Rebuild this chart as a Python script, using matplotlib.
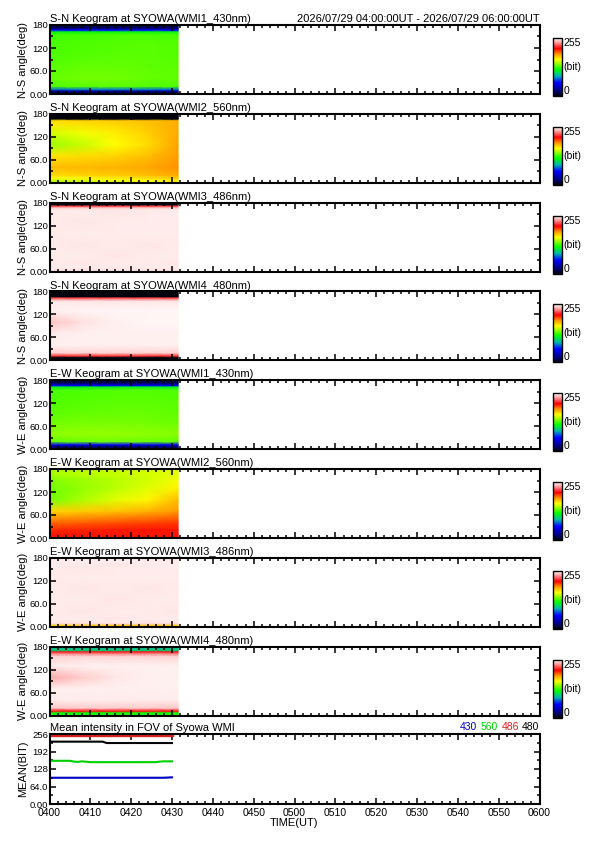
import matplotlib
matplotlib.use('Agg')
import matplotlib.pyplot as plt
import numpy as np
from matplotlib.colors import LinearSegmentedColormap, Normalize
from matplotlib.ticker import MultipleLocator

plt.rcParams['font.family'] = ['Liberation Sans', 'DejaVu Sans']

# keogram grid nodes: angle (deg) rows, time (min after 04:00 UT) columns
ang = [0, 4, 8, 12, 20, 40, 70, 100, 130, 155, 163, 167, 171, 175, 180]
tim = [0, 8, 16, 24, 31.5]

sn430 = [[10, 10, 10, 10, 10], [16, 16, 16, 16, 16], [28, 28, 28, 28, 28],
         [75, 78, 78, 78, 75], [130, 132, 132, 131, 130], [134, 136, 136, 134, 133],
         [132, 134, 134, 133, 132], [130, 131, 132, 132, 131], [129, 130, 131, 132, 131],
         [128, 129, 130, 130, 129], [112, 114, 114, 114, 112], [60, 62, 62, 62, 60],
         [28, 28, 28, 28, 28], [16, 16, 16, 16, 16], [10, 10, 10, 10, 10]]

sn560 = [[145, 150, 154, 158, 162], [148, 152, 156, 160, 164], [152, 155, 159, 162, 166],
         [158, 161, 164, 167, 172], [168, 170, 172, 175, 180], [176, 177, 178, 181, 185],
         [166, 168, 170, 175, 183], [143, 150, 160, 168, 182], [152, 158, 164, 171, 180],
         [166, 168, 170, 174, 179], [168, 170, 172, 175, 178], [0, 0, 0, 0, 0],
         [0, 0, 0, 0, 0], [0, 0, 0, 0, 0], [0, 0, 0, 0, 0]]

sn486 = [[247, 248, 248, 247, 248], [249, 250, 249, 250, 249], [251, 250, 251, 250, 251],
         [251, 251, 250, 251, 251], [251, 250, 251, 251, 250], [251, 251, 250, 251, 251],
         [251, 250, 251, 250, 251], [251, 251, 251, 251, 251], [251, 250, 251, 251, 251],
         [251, 251, 250, 251, 251], [250, 250, 250, 250, 250], [244, 244, 244, 244, 244],
         [222, 222, 222, 222, 222], [0, 0, 0, 0, 0], [0, 0, 0, 0, 0]]

sn480 = [[0, 0, 0, 0, 0], [0, 0, 0, 0, 0], [0, 0, 0, 0, 0],
         [218, 218, 218, 218, 218], [246, 247, 247, 247, 246], [252, 252, 252, 252, 252],
         [251, 252, 252, 252, 252], [243, 249, 252, 253, 253], [252, 253, 253, 253, 253],
         [250, 250, 250, 250, 250], [222, 222, 222, 222, 222], [0, 0, 0, 0, 0],
         [0, 0, 0, 0, 0], [0, 0, 0, 0, 0], [0, 0, 0, 0, 0]]

ew430 = [[10, 10, 10, 10, 10], [16, 16, 16, 16, 16], [25, 25, 25, 25, 25],
         [55, 58, 58, 58, 55], [133, 135, 136, 135, 133], [141, 142, 142, 141, 140],
         [136, 137, 137, 136, 135], [132, 133, 134, 134, 133], [130, 131, 132, 132, 131],
         [129, 130, 131, 131, 130], [110, 112, 112, 112, 110], [55, 56, 56, 56, 55],
         [25, 25, 25, 25, 25], [15, 15, 15, 15, 15], [10, 10, 10, 10, 10]]

ew560 = [[205, 205, 205, 205, 205], [205, 205, 205, 205, 205], [206, 206, 206, 206, 206],
         [205, 205, 205, 205, 205], [203, 204, 205, 206, 206], [192, 194, 196, 198, 200],
         [170, 172, 174, 178, 184], [136, 146, 155, 162, 176], [136, 142, 148, 155, 163],
         [140, 144, 148, 152, 158], [144, 147, 150, 153, 156], [145, 148, 150, 153, 156],
         [146, 148, 150, 153, 156], [146, 148, 150, 153, 156], [146, 148, 150, 153, 156]]

ew486 = [[150, 150, 152, 152, 150], [170, 170, 172, 172, 170], [246, 246, 246, 246, 246],
         [251, 250, 251, 250, 251], [251, 251, 250, 251, 251], [251, 250, 251, 251, 250],
         [251, 251, 250, 251, 251], [251, 250, 251, 250, 251], [251, 251, 251, 251, 251],
         [251, 250, 251, 251, 251], [251, 251, 250, 251, 251], [251, 251, 251, 251, 251],
         [251, 251, 251, 251, 251], [251, 251, 251, 251, 251], [251, 251, 251, 251, 251]]

ew480 = [[122, 122, 122, 122, 122], [122, 122, 122, 122, 122], [118, 118, 118, 118, 118],
         [212, 212, 212, 212, 212], [244, 245, 245, 245, 244], [251, 251, 251, 251, 251],
         [252, 252, 252, 252, 252], [238, 245, 250, 252, 252], [251, 252, 252, 252, 252],
         [246, 247, 247, 247, 246], [228, 228, 228, 228, 228], [212, 212, 212, 212, 212],
         [98, 98, 98, 98, 98], [94, 94, 94, 94, 94], [94, 94, 94, 94, 94]]

keograms = [sn430, sn560, sn486, sn480, ew430, ew560, ew486, ew480]
titles = ['S-N Keogram at SYOWA(WMI1_430nm)', 'S-N Keogram at SYOWA(WMI2_560nm)',
          'S-N Keogram at SYOWA(WMI3_486nm)', 'S-N Keogram at SYOWA(WMI4_480nm)',
          'E-W Keogram at SYOWA(WMI1_430nm)', 'E-W Keogram at SYOWA(WMI2_560nm)',
          'E-W Keogram at SYOWA(WMI3_486nm)', 'E-W Keogram at SYOWA(WMI4_480nm)']
ylabels = ['N-S angle(deg)'] * 4 + ['W-E angle(deg)'] * 4
period = '2026/07/29 04:00:00UT - 2026/07/29 06:00:00UT'

# mean intensity in FOV
mean_t = [0, 2, 4, 5, 6, 7, 8, 10, 12, 13, 14, 16, 18, 20, 22, 24, 26, 27, 28, 30]
m430 = [96, 96, 96, 96, 96, 96, 96, 96, 96, 96, 96, 96, 96, 96, 96, 96, 96, 96, 96, 97.5]
m560 = [158, 158, 158, 158, 155, 154, 156, 153, 153, 153, 153, 153, 153, 153, 153, 153, 153, 155, 156, 156]
m486 = [252, 252, 252, 252, 252, 252, 252, 252, 252, 252, 252, 252, 252, 252, 252, 252, 252, 252, 252, 252]
m480 = [228, 228, 228, 228, 228, 228, 228, 228, 228, 228, 223, 223, 223, 223, 223, 223, 223, 223, 223, 223]
mean_series = [('430', m430, '#0000c0'), ('560', m560, '#00d000'),
               ('486', m486, '#d82020'), ('480', m480, 'black')]

time_ticks = [0, 10, 20, 30, 40, 50, 60, 70, 80, 90, 100, 110, 120]
time_labels = ['0400', '0410', '0420', '0430', '0440', '0450', '0500',
               '0510', '0520', '0530', '0540', '0550', '0600']

cmap = LinearSegmentedColormap.from_list('rainbow_white', [
    (0 / 255, (0, 0, 0.05)), (23 / 255, (0, 0, 0.5)), (59 / 255, (0, 0, 1)),
    (88 / 255, (0, 0.7, 0.7)), (117 / 255, (0, 1, 0)), (160 / 255, (1, 1, 0)),
    (184 / 255, (1, 0.6, 0)), (209 / 255, (1, 0, 0)), (235 / 255, (1, 0.6, 0.6)),
    (1.0, (1, 1, 1))])
norm = Normalize(0, 255)

W, H = 595.0, 842.0
fig = plt.figure(figsize=(W / 100, H / 100), dpi=100)


def px_axes(left, top, width, height):
    return fig.add_axes([left / W, 1 - (top + height) / H, width / W, height / H])


def style(ax):
    ax.set_xlim(0, 120)
    ax.xaxis.set_major_locator(MultipleLocator(10))
    ax.xaxis.set_minor_locator(MultipleLocator(2))
    ax.tick_params(which='both', direction='in', top=True, right=True, width=1.1)
    ax.tick_params(which='major', length=4, labelsize=6.8, pad=1)
    ax.tick_params(which='minor', length=2)
    for s in ax.spines.values():
        s.set_linewidth(1.5)


T, A = np.meshgrid(tim, ang)
for i, grid in enumerate(keograms):
    top = 25 + i * 88.8
    ax = px_axes(49.5, top, 490, 69)
    mesh = ax.pcolormesh(T, A, np.array(grid, float), cmap=cmap, norm=norm, shading='gouraud')
    style(ax)
    ax.set_ylim(0, 180)
    ax.set_yticks([0, 60, 120, 180], ['0.00', '60.0', '120', '180'])
    ax.yaxis.set_minor_locator(MultipleLocator(30))
    ax.set_xticklabels([])
    ax.set_ylabel(ylabels[i], fontsize=8, labelpad=1)
    ax.set_title(titles[i], loc='left', fontsize=8, pad=2)
    if i == 0:
        ax.set_title(period, loc='right', fontsize=8, pad=2)

    cax = px_axes(552.5, top + 13, 9.5, 58)
    cb = fig.colorbar(mesh, cax=cax, ticks=[])
    cb.outline.set_linewidth(1)
    cax.text(1.15, 1.0, '255', transform=cax.transAxes, fontsize=7.5, va='top', ha='left')
    cax.text(1.15, 0.5, '(bit)', transform=cax.transAxes, fontsize=7.5, va='center', ha='left')
    cax.text(1.15, 0.0, '0', transform=cax.transAxes, fontsize=7.5, va='bottom', ha='left')

# mean intensity panel
ax = px_axes(49.5, 734, 490, 70)
for name, vals, col in mean_series:
    lw = 2.4 if name == '486' else 1.5
    ax.plot(mean_t, vals, color=col, lw=lw, clip_on=True)
style(ax)
ax.set_ylim(0, 256)
ax.set_yticks([0, 64, 128, 192, 256], ['0.00', '64.0', '128', '192', '256'])
ax.yaxis.set_minor_locator(MultipleLocator(32))
ax.set_xticks(time_ticks, time_labels)
ax.tick_params(axis='x', labelsize=7.5, pad=3)
ax.set_ylabel('MEAN(BIT)', fontsize=8, labelpad=1)
ax.set_xlabel('TIME(UT)', fontsize=8, labelpad=0)
ax.set_title('Mean intensity in FOV of Syowa WMI', loc='left', fontsize=8, pad=2)

prev = None
for name, vals, col in reversed(mean_series):
    if prev is None:
        prev = ax.text(1.0, 1.03, name, transform=ax.transAxes, color=col,
                       fontsize=7.5, ha='right', va='bottom')
    else:
        prev = ax.annotate(name, xy=(0, 0), xycoords=prev, xytext=(-2.5, 0),
                           textcoords='offset points', color=col, fontsize=7.5,
                           ha='right', va='bottom')

fig.savefig('out.png', dpi=100)
